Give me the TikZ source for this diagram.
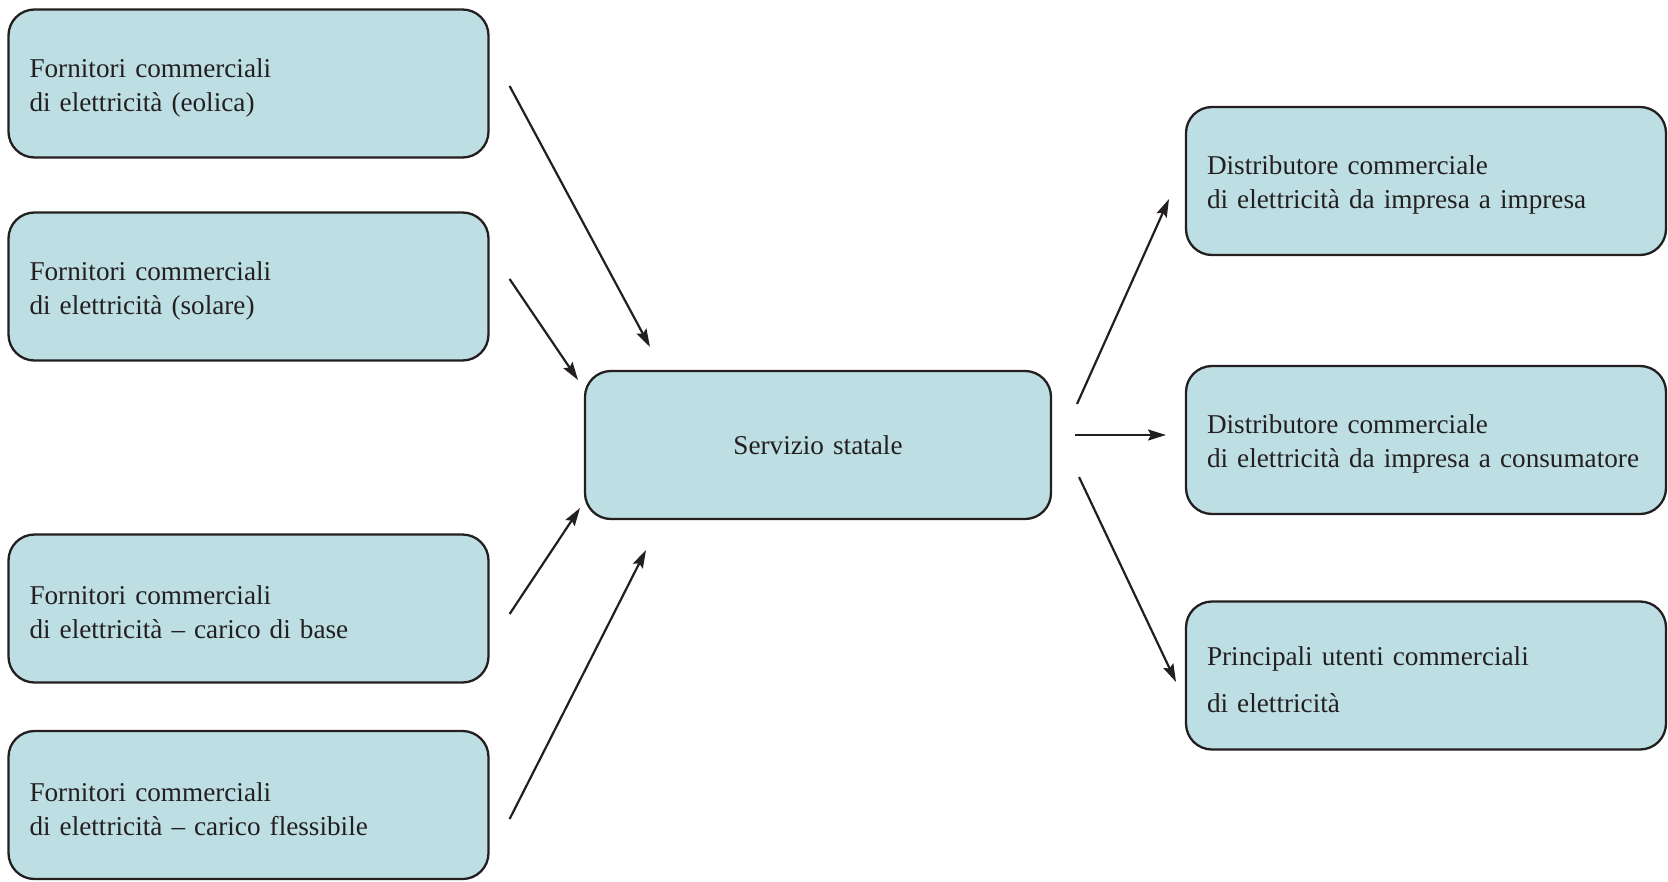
\documentclass[tikz,border=0pt]{standalone}
\usepackage{fontspec}
\setmainfont{Liberation Serif}
\usetikzlibrary{arrows.meta}
\definecolor{boxfill}{RGB}{189,223,228}
\definecolor{ink}{RGB}{35,31,32}
\begin{document}
\begin{tikzpicture}[x=0.5pt,y=-0.5pt,
  box/.style={draw=ink, line width=1.15pt, fill=boxfill, rounded corners=13pt,
    minimum height=74pt, inner xsep=10.5pt, inner ysep=0pt, align=left,
    text=ink, font=\fontsize{13.6pt}{17pt}\selectfont},
  lbox/.style={box, text width=219pt, execute at begin node={\rule{0pt}{13.5pt}}},
  cbox/.style={box, text width=212pt, align=center},
  flow/.style={draw=ink, line width=1.1pt, -{Stealth[length=9pt,width=5.5pt,inset=1.5pt]}}]
\useasboundingbox (0,0) rectangle (1668,882);
\node[lbox] (e1) at (248.5,83.5) {Fornitori commerciali\\di elettricità (eolica)};
\node[lbox] (e2) at (248.5,286.5) {Fornitori commerciali\\di elettricità (solare)};
\node[lbox] (e3) at (248.5,608.5) {Fornitori commerciali\\di elettricità -- carico di base};
\node[lbox] (e4) at (248.5,805) {Fornitori commerciali\\di elettricità -- carico flessibile};
\node[cbox] (ss) at (818,445) {Servizio statale};
\node[lbox] (r1) at (1426,181) {Distributore commerciale\\di elettricità da impresa a impresa};
\node[lbox] (r2) at (1426,440) {Distributore commerciale\\\mbox{di elettricità da impresa a consumatore}};
\node[lbox] (r3) at (1426,675.5) {Principali utenti commerciali\\[6.5pt]di elettricità};
\coordinate (a1s) at (509.6,86);  \coordinate (a1e) at (650,347);
\coordinate (a2s) at (509.6,279); \coordinate (a2e) at (578,380);
\coordinate (a3s) at (509.6,614); \coordinate (a3e) at (580,508);
\coordinate (a4s) at (509.6,819); \coordinate (a4e) at (646,550);
\coordinate (a5s) at (1077,404);  \coordinate (a5e) at (1169,199);
\coordinate (a6s) at (1075,435);  \coordinate (a6e) at (1166,435);
\coordinate (a7s) at (1079,477);  \coordinate (a7e) at (1176,682);
\draw[flow] (a1s) -- (a1e);
\draw[flow] (a2s) -- (a2e);
\draw[flow] (a3s) -- (a3e);
\draw[flow] (a4s) -- (a4e);
\draw[flow] (a5s) -- (a5e);
\draw[flow] (a6s) -- (a6e);
\draw[flow] (a7s) -- (a7e);
\end{tikzpicture}
\end{document}
